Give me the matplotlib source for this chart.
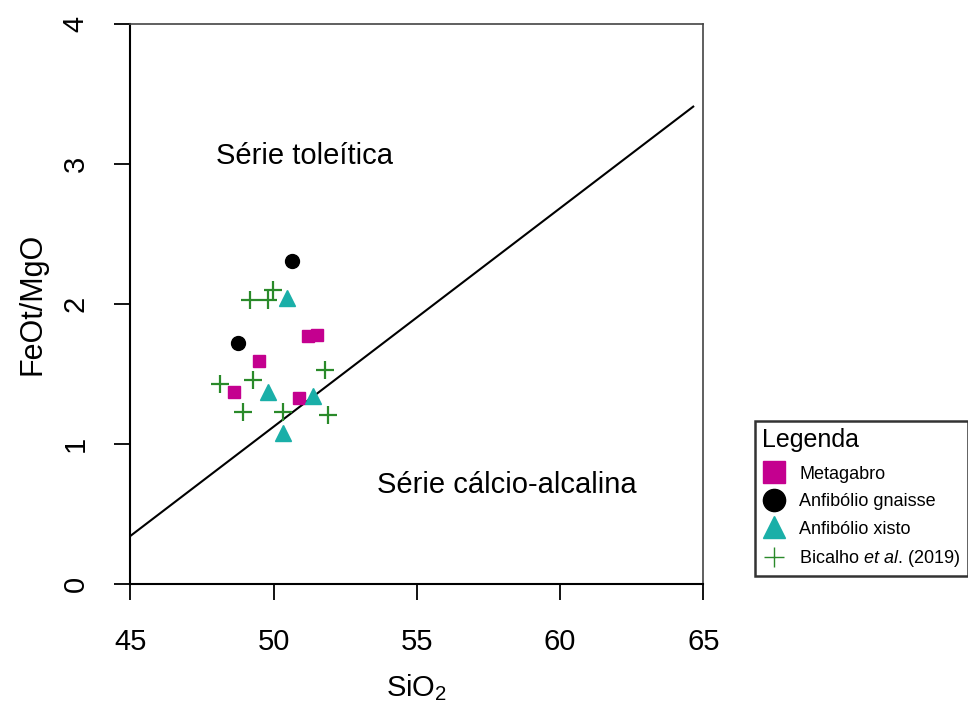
import matplotlib
matplotlib.use("Agg")
import matplotlib.pyplot as plt
from matplotlib.lines import Line2D

plt.rcParams['font.family'] = ['Liberation Sans', 'DejaVu Sans']
plt.rcParams['mathtext.fontset'] = 'custom'
plt.rcParams['mathtext.rm'] = 'Liberation Sans'
plt.rcParams['mathtext.it'] = 'Liberation Sans:italic'

# Amostras (SiO2, FeOt/MgO)
meta_sio2 = [51.19, 51.52, 49.49, 48.62, 50.89]
meta_fem = [1.77, 1.78, 1.59, 1.37, 1.33]

gnaisse_sio2 = [50.63, 48.76]
gnaisse_fem = [2.31, 1.72]

xisto_sio2 = [50.47, 49.81, 51.36, 50.31]
xisto_fem = [2.04, 1.37, 1.34, 1.08]

bic_sio2 = [49.97, 49.17, 49.81, 51.79, 49.29, 48.13, 48.94, 50.34, 51.91]
bic_fem = [2.10, 2.03, 2.03, 1.53, 1.46, 1.43, 1.23, 1.23, 1.21]

# Limite toleítico / cálcio-alcalino (Miyashiro 1974)
limite_sio2 = [45.0, 64.65]
limite_fem = [0.344, 3.41]

xticks = [45, 50, 55, 60, 65]
yticks = [0, 1, 2, 3, 4]

c_meta = '#C4008F'
c_xisto = '#1AAFA8'
c_bic = '#2A8A2A'

fig = plt.figure(figsize=(9.68, 7.08), dpi=100)
ax = fig.add_axes([0.1348, 0.1751, 0.5917, 0.7910])

ax.plot(limite_sio2, limite_fem, color='black', lw=1.5)

ax.plot(bic_sio2, bic_fem, '+', color=c_bic, ms=13, mew=1.6, ls='none')
ax.plot(meta_sio2, meta_fem, 's', color=c_meta, ms=9, ls='none')
ax.plot(gnaisse_sio2, gnaisse_fem, 'o', color='black', ms=10, ls='none')
ax.plot(xisto_sio2, xisto_fem, '^', color=c_xisto, ms=11.5, ls='none')

ax.text(51.08, 3.0, 'Série toleítica', ha='center', va='baseline', fontsize=21)
ax.text(58.15, 0.65, 'Série cálcio-alcalina', ha='center', va='baseline', fontsize=21)

ax.set_xlim(45, 65)
ax.set_ylim(0, 4)
ax.set_xticks(xticks)
ax.set_yticks(yticks)
ax.tick_params(direction='out', length=11.5, width=1.3, labelsize=21, pad=20)
ax.tick_params(axis='y', pad=18)
for lab in ax.get_yticklabels():
    lab.set_rotation(90)
    lab.set_va('center')

for s in ['left', 'bottom']:
    ax.spines[s].set_linewidth(1.5)
for s in ['top', 'right']:
    ax.spines[s].set_linewidth(1.2)
    ax.spines[s].set_color('#444444')

ax.set_xlabel('SiO$_2$', fontsize=21, labelpad=12)
ax.set_ylabel('FeOt/MgO', fontsize=22, labelpad=10)

handles = [
    Line2D([], [], marker='s', color=c_meta, ls='none', ms=16),
    Line2D([], [], marker='o', color='black', ls='none', ms=16),
    Line2D([], [], marker='^', color=c_xisto, ls='none', ms=16),
    Line2D([], [], marker='+', color=c_bic, ls='none', ms=14, mew=1),
]
labels = ['Metagabro', 'Anfibólio gnaisse', 'Anfibólio xisto',
          r'Bicalho $\it{et\ al.}\,$(2019)']
leg = fig.legend(handles, labels, loc='upper left',
                 bbox_to_anchor=(755 / 968, 1 - 420.7 / 708),
                 title='Legenda', title_fontsize=18, fontsize=13,
                 alignment='left', fancybox=False, framealpha=1,
                 edgecolor='#333333', borderpad=0.4, labelspacing=0.58,
                 handlelength=1.3, handletextpad=0.75, borderaxespad=0)
leg.get_frame().set_linewidth(1.8)
# espaço extra entre o título e as entradas
leg._legend_box.sep = 10

fig.savefig('out.png', dpi=100)
